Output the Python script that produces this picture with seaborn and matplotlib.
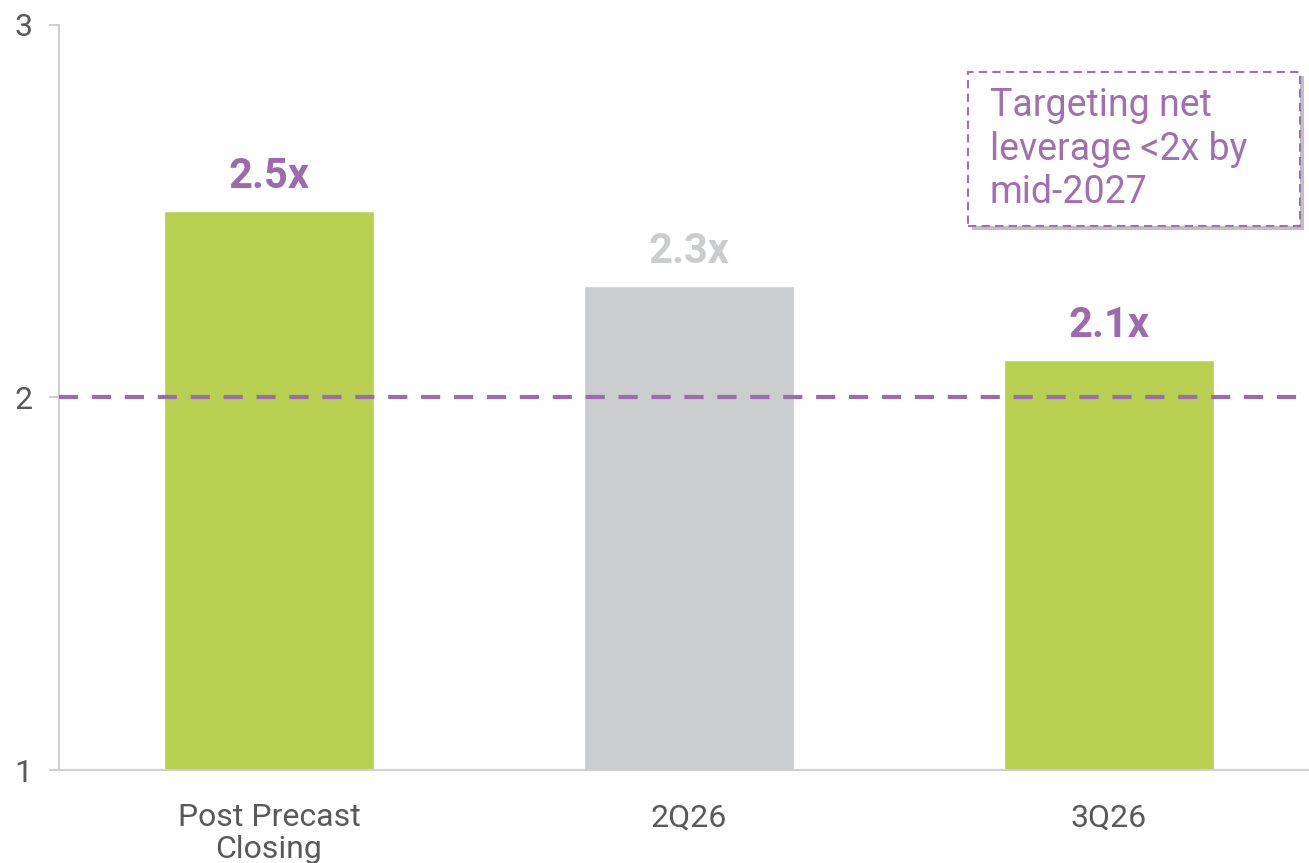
import matplotlib
matplotlib.use("Agg")
import matplotlib.pyplot as plt
import matplotlib.patheffects as pe
from matplotlib.patches import Rectangle
import seaborn as sns

categories = ["Post Precast\nClosing", "2Q26", "3Q26"]
values = [2.5, 2.3, 2.1]
labels = ["2.5x", "2.3x", "2.1x"]
bar_colors = ["#B8CF52", "#CBCCCE", "#B8CF52"]
label_colors = ["#9E6AAE", "#CBCCCE", "#9E6AAE"]
target = 2.0
yticks = [1, 2, 3]
note = "Targeting net\nleverage <2x by\nmid-2027"

sns.set_theme(style="white")
plt.rcParams["font.family"] = ["Roboto", "DejaVu Sans"]

W, H = 1309, 863
fig = plt.figure(figsize=(W / 100, H / 100), dpi=100)
ax = fig.add_axes([59 / W, 93 / H, 1260 / W, 745 / H])

sns.barplot(x=categories, y=values, hue=categories, palette=bar_colors,
            width=0.5, legend=False, ax=ax, saturation=1)

ax.set_xlim(-0.5, 2.5)
ax.set_ylim(1, 3)
ax.set_yticks(yticks)
ax.set_yticklabels([str(t) for t in yticks])

ax.axhline(target, color="#9E6AAE", lw=3, ls=(0, (4.6, 3.3)), zorder=3)

for i, (v, lab, c) in enumerate(zip(values, labels, label_colors)):
    ax.annotate(lab, (i, v), xytext=(0, 10), textcoords="offset points",
                ha="center", va="bottom", fontsize=30, fontweight="bold", color=c)

for s in ["top", "right"]:
    ax.spines[s].set_visible(False)
for s in ["left", "bottom"]:
    ax.spines[s].set_color("#D0D0D0")
    ax.spines[s].set_linewidth(1.5)

ax.tick_params(axis="y", which="both", left=True, length=7, width=1.5,
               color="#D0D0D0", labelsize=23, labelcolor="#595959", pad=12)
ax.tick_params(axis="x", bottom=False, labelsize=23, labelcolor="#595959", pad=18)
for t in ax.get_xticklabels():
    t.set_linespacing(1.1)
ax.set_xlabel("")
ax.set_ylabel("")

box = Rectangle((968 / W, 1 - 226 / H), (1300 - 968) / W, (226 - 72) / H,
                transform=fig.transFigure, fc="white", ec="#A070B0", lw=1.5,
                ls=(0, (4, 2.5)), zorder=5,
                path_effects=[pe.SimplePatchShadow(offset=(3, -3), alpha=0.35), pe.Normal()])
fig.add_artist(box)
fig.text(990 / W, 1 - 149 / H, note, ha="left", va="center", fontsize=27,
         color="#A070B0", linespacing=1.22, zorder=6)

fig.savefig("out.png", dpi=100)
